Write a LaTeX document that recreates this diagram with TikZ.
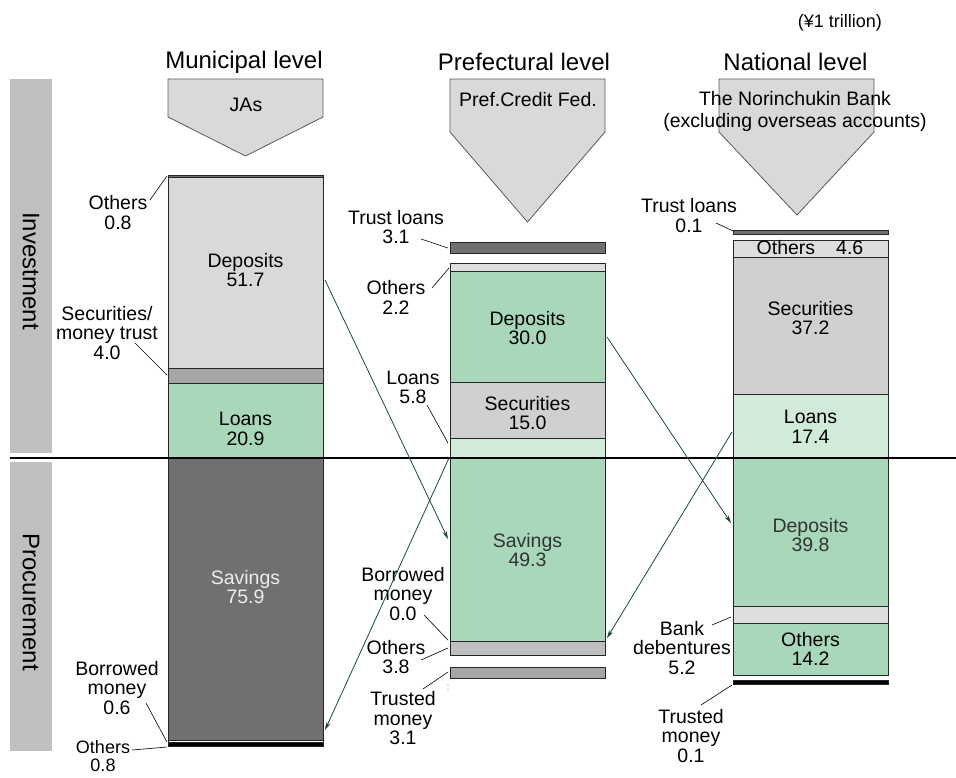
\documentclass[tikz,border=0pt]{standalone}
\usepackage{fontspec}
\setmainfont{Liberation Sans}
\usetikzlibrary{arrows.meta}
\definecolor{sidegray}{HTML}{BFBFBF}
\definecolor{headgray}{HTML}{D9D9D9}
\definecolor{darkbar}{HTML}{707070}
\definecolor{midbar}{HTML}{A6A6A6}
\definecolor{lightbar}{HTML}{D9D9D9}
\definecolor{secbar}{HTML}{D0D0D0}
\definecolor{othbar}{HTML}{DEDEDE}
\definecolor{greenbar}{HTML}{A8D8B9}
\definecolor{palegreen}{HTML}{D1EAD9}
\definecolor{flowgreen}{HTML}{1D4B32}
\definecolor{intext}{HTML}{333333}
\begin{document}
\begin{tikzpicture}[x=1pt, y=-1pt, >={Stealth[length=8pt,width=4.5pt]},
  every node/.style={inner sep=0pt, align=center, font=\fontsize{19.5}{19.5}\selectfont},
  bar/.style={draw=black!85, line width=0.8pt},
  lead/.style={draw=black, line width=0.6pt},
  flow/.style={draw=flowgreen, line width=0.8pt, ->},
  title/.style={font=\fontsize{24}{28}\selectfont}]
  \useasboundingbox (0,0) rectangle (956,777);

  % 1. side bands and headings
  \fill[sidegray] (10,79) rectangle (52,453);
  \fill[sidegray] (10,462) rectangle (52,751);
  \node[title, rotate=-90] (inv) at (31,271) {Investment};
  \node[title, rotate=-90] (proc) at (31,602) {Procurement};
  \node[title] (muni) at (244,62) {Municipal level};
  \node[title] (pref) at (524,62) {Prefectural level};
  \node[title] (nati) at (795.5,62) {National level};
  \node[font=\fontsize{18}{18}\selectfont] (unit) at (840,23) {(¥1 trillion)};

  % 2. pentagon heads
  \draw[draw=black!65, fill=headgray, line width=0.8pt] (168,79) -- (323,79) -- (323,117) -- (245.5,156) -- (168,117) -- cycle;
  \node (ja) at (246,105) {JAs};
  \draw[draw=black!65, fill=headgray, line width=0.8pt] (450,79) -- (605,79) -- (605,132) -- (527.5,222) -- (450,132) -- cycle;
  \node (pcf) at (528,100) {Pref.Credit Fed.};
  \draw[draw=black!65, fill=headgray, line width=0.8pt] (719,79) -- (874,79) -- (874,132) -- (797,215) -- (719,132) -- cycle;
  \node[font=\fontsize{19.5}{22}\selectfont] (ncb) at (795,111) {The Norinchukin Bank\\(excluding overseas accounts)};

  % 3. municipal column
  \draw[bar, fill=darkbar] (168,175) rectangle (323,177.5);
  \draw[bar, fill=lightbar] (168,177.5) rectangle (323,368);
  \draw[bar, fill=midbar] (168,368) rectangle (323,383);
  \draw[bar, fill=greenbar] (168,383) rectangle (323,458);
  \draw[bar, fill=darkbar] (168,458) rectangle (323,740);
  \draw[bar, fill=white] (168,740) rectangle (323,742.5);
  \draw[bar, fill=black] (168,742.5) rectangle (323,746);
  \node (depL) at (245.5,270) {Deposits\\51.7};
  \node (loaL) at (245.5,429) {Loans\\20.9};
  \node[text=white!93!black] (savL) at (245.5,587) {Savings\\75.9};
  \node (othL) at (118,212.5) {Others\\0.8};
  \node (secL) at (107,333) {Securities/\\money trust\\4.0};
  \node (borL) at (117,688) {Borrowed\\money\\0.6};
  \node[font=\fontsize{18}{18}\selectfont] (oth2L) at (103,756) {Others\\0.8};
  \coordinate (othLa) at (150,200); \coordinate (othLb) at (167,176);
  \coordinate (secLa) at (135,343); \coordinate (secLb) at (167,375);
  \coordinate (borLa) at (146,703); \coordinate (borLb) at (167,742);
  \coordinate (oth2La) at (132,750); \coordinate (oth2Lb) at (167,747);
  \draw[lead] (othLa) -- (othLb);
  \draw[lead] (secLa) -- (secLb);
  \draw[lead] (borLa) -- (borLb);
  \draw[lead] (oth2La) -- (oth2Lb);

  % 4. prefectural column
  \draw[bar, fill=darkbar] (450,242) rectangle (605,253);
  \draw[bar, fill=othbar] (450,263) rectangle (605,271);
  \draw[bar, fill=greenbar] (450,271) rectangle (605,382);
  \draw[bar, fill=secbar] (450,382) rectangle (605,438);
  \draw[bar, fill=palegreen] (450,438) rectangle (605,458);
  \draw[bar, fill=greenbar] (450,458) rectangle (605,641);
  \draw[bar, fill=sidegray] (450,641) rectangle (605,655);
  \draw[bar, fill=midbar] (450,667) rectangle (605,678);
  \fill[black!50] (448,685) circle (0.6) (448,690) circle (0.6); % tiny dots
  \node (depM) at (527.5,328) {Deposits\\30.0};
  \node (secM) at (527.5,413) {Securities\\15.0};
  \node[text=intext] (savM) at (527.5,550) {Savings\\49.3};
  \node (truM) at (396,227) {Trust loans\\3.1};
  \node (othM) at (396,297.5) {Others\\2.2};
  \node (loaM) at (413,387.5) {Loans\\5.8};
  \node (borM) at (403,594) {Borrowed\\money\\0.0};
  \node (oth2M) at (396,657) {Others\\3.8};
  \node (trdM) at (403,718.5) {Trusted\\money\\3.1};
  \coordinate (truMa) at (421,239); \coordinate (truMb) at (448,248);
  \coordinate (othMa) at (432,288); \coordinate (othMb) at (449,268);
  \coordinate (loaMa) at (427,405); \coordinate (loaMb) at (448,443);
  \coordinate (borMa) at (424,615); \coordinate (borMb) at (448,640);
  \coordinate (oth2Ma) at (421,660); \coordinate (oth2Mb) at (448,648);
  \coordinate (trdMa) at (423,689); \coordinate (trdMb) at (448,672);
  \draw[lead] (truMa) -- (truMb);
  \draw[lead] (othMa) -- (othMb);
  \draw[lead] (loaMa) -- (loaMb);
  \draw[lead] (borMa) -- (borMb);
  \draw[lead] (oth2Ma) -- (oth2Mb);
  \draw[lead] (trdMa) -- (trdMb);

  % 5. national column
  \draw[bar, fill=darkbar] (733,230) rectangle (888,234);
  \draw[bar, fill=othbar] (733,240) rectangle (888,257);
  \draw[bar, fill=secbar] (733,257) rectangle (888,394);
  \draw[bar, fill=palegreen] (733,394) rectangle (888,458);
  \draw[bar, fill=greenbar] (733,458) rectangle (888,606);
  \draw[bar, fill=othbar] (733,606) rectangle (888,623);
  \draw[bar, fill=greenbar] (733,623) rectangle (888,675);
  \draw[bar, fill=black] (733,680) rectangle (888,684);
  \node (othR) at (810,248) {Others\hspace{21pt}4.6};
  \node (secR) at (810.5,318) {Securities\\37.2};
  \node (loaR) at (810.5,427) {Loans\\17.4};
  \node[text=intext] (depR) at (810.5,535) {Deposits\\39.8};
  \node (oth2R) at (810.5,649) {Others\\14.2};
  \node (truR) at (689,215.5) {Trust loans\\0.1};
  \node (bnkR) at (682,648) {Bank\\debentures\\5.2};
  \node (trdR) at (691,736) {Trusted\\money\\0.1};
  \coordinate (truRa) at (716,223); \coordinate (truRb) at (733,231);
  \coordinate (bnkRa) at (712,625); \coordinate (bnkRb) at (731,617);
  \coordinate (trdRa) at (701,705); \coordinate (trdRb) at (732,685);
  \draw[lead] (truRa) -- (truRb);
  \draw[lead] (bnkRa) -- (bnkRb);
  \draw[lead] (trdRa) -- (trdRb);

  % 6. dividing line
  \draw[line width=1.2pt] (10,458) -- (956,458);

  % 7. fund flows between levels
  \coordinate (f1a) at (325,280); \coordinate (f1b) at (448,539);
  \coordinate (f2a) at (449,458); \coordinate (f2b) at (325,730);
  \coordinate (f3a) at (607,337); \coordinate (f3b) at (731,523);
  \coordinate (f4a) at (732,432); \coordinate (f4b) at (607,638);
  \draw[flow] (f1a) -- (f1b); % JA deposits -> pref. savings
  \draw[flow] (f2a) -- (f2b); % pref. loans -> JA savings
  \draw[flow] (f3a) -- (f3b); % pref. deposits -> national
  \draw[flow] (f4a) -- (f4b); % national loans -> pref.
\end{tikzpicture}
\end{document}
